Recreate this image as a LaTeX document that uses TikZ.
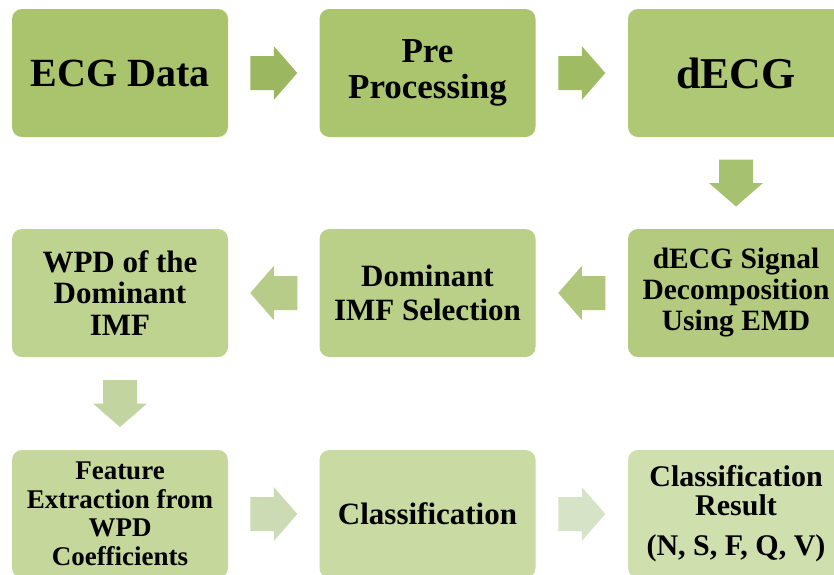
\documentclass[tikz,border=0pt]{standalone}
\usepackage{fontspec}
\setmainfont{Liberation Serif}
\usetikzlibrary{calc}
\definecolor{cb1}{HTML}{A9C46C}
\definecolor{cb2}{HTML}{ABC56F}
\definecolor{cb3}{HTML}{AEC876}
\definecolor{cb4}{HTML}{BFD391}
\definecolor{cb5}{HTML}{BAD088}
\definecolor{cb6}{HTML}{B4CB7F}
\definecolor{cb7}{HTML}{C5D79A}
\definecolor{cb8}{HTML}{C9DAA3}
\definecolor{cb9}{HTML}{D0DFAE}
\definecolor{ca1}{HTML}{9BB75F}
\definecolor{ca2}{HTML}{9FBB64}
\definecolor{ca3}{HTML}{A6C16F}
\definecolor{ca4}{HTML}{B7CC88}
\definecolor{ca5}{HTML}{AFC67B}
\definecolor{ca6}{HTML}{C2D4A0}
\definecolor{ca7}{HTML}{CCDBB4}
\definecolor{ca8}{HTML}{D6E3C6}
\newcommand\fatarrow[4]{%
  \begin{scope}[shift={($(#1)!0.5!(#2)$)},rotate=#4]
    \fill[#3] (-23.5,17) -- (0,17) -- (0,27) -- (23.5,0) -- (0,-27) -- (0,-17) -- (-23.5,-17) -- cycle;
  \end{scope}}
\tikzset{
  box/.style={rectangle, rounded corners=10pt, minimum width=216pt, minimum height=128pt,
    inner sep=0pt, align=center, text=black},
  fs/.style 2 args={font=\bfseries\fontsize{#1}{#2}\selectfont}
}
\begin{document}
\begin{tikzpicture}[x=1pt,y=-1pt]
\useasboundingbox[fill=white] (0,0) rectangle (834,574);
% row 1
\node[box, fill=cb1, fs={40}{44}] (b1) at (120,73) {ECG Data};
\node[box, fill=cb2, fs={35}{36}] (b2) at (427.5,73) {Pre\\Processing};
\node[box, fill=cb3, fs={44}{44}] (b3) at (736,73) {dECG};
% row 2
\node[box, fill=cb4, fs={31}{31.5}] (b4) at (120,293) {WPD of the\\Dominant\\IMF};
\node[box, fill=cb5, fs={31}{34}] (b5) at (427.5,293) {Dominant\\IMF Selection};
\node[box, fill=cb6, fs={29.5}{31}] (b6) at (736,293) {dECG Signal\\Decomposition\\Using EMD};
% row 3
\node[box, fill=cb7, fs={27}{28.5}] (b7) at (120,514) {Feature\\Extraction from\\WPD\\Coefficients};
\node[box, fill=cb8, fs={31}{33}] (b8) at (427.5,514) {Classification};
\node[box, fill=cb9, fs={30}{29}] (b9) at (736,514) {Classification\\Result\\[11pt](N, S, F, Q, V)};
% arrows
\fatarrow{b1.east}{b2.west}{ca1}{0}
\fatarrow{b2.east}{b3.west}{ca2}{0}
\fatarrow{b3.south}{b6.north}{ca3}{-90}
\fatarrow{b6.west}{b5.east}{ca5}{180}
\fatarrow{b5.west}{b4.east}{ca4}{180}
\fatarrow{b4.south}{b7.north}{ca6}{-90}
\fatarrow{b7.east}{b8.west}{ca7}{0}
\fatarrow{b8.east}{b9.west}{ca8}{0}
\end{tikzpicture}
\end{document}
